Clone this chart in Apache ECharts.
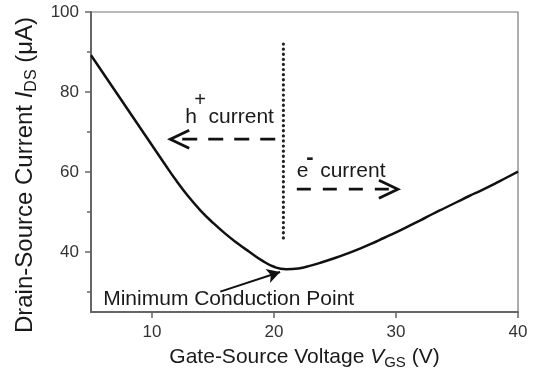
<!DOCTYPE html>
<html>
<head>
<meta charset="utf-8">
<script src="https://cdn.jsdelivr.net/npm/echarts@6/dist/echarts.min.js"></script>
<style>
  html, body { margin: 0; padding: 0; background: #fff; }
  #chart { width: 535px; height: 375px; }
</style>
</head>
<body>
<div id="chart"></div>
<script>
// 数据：栅源电压 / 漏源电流
const vgs = [5, 6, 7, 8, 9, 10, 11, 12, 13, 14, 15, 16, 17, 18, 19, 20, 21, 22, 23, 24,
  25, 26, 27, 28, 29, 30, 31, 32, 33, 34, 35, 36, 37, 38, 39, 40];
const ids = [89.2, 84.7, 80.2, 75.7, 71.2, 66.7, 62.2, 57.8, 53.8, 50.3, 47.3, 44.6, 42.2, 40.0, 37.9, 36.3,
  35.7, 35.9, 36.6, 37.5, 38.5, 39.6, 40.8, 42.1, 43.5, 44.9, 46.4, 47.9, 49.5, 51.0, 52.5, 54.0,
  55.4, 56.9, 58.5, 60.1];

const xTicks = [10, 20, 30, 40];
const yTicks = [40, 60, 80, 100];
const yMinorTicks = [30, 50, 70, 90];

// 注释（数据坐标）
const dividerLine = [[20.77, 92], [20.77, 43.4]];
const holeShaft = [[20.1, 68.2], [11.5, 68.2]];
const holeHead = [[13.05, 70.45], [11.5, 68.2], [13.05, 65.95]];
const elecShaft = [[21.87, 55.7], [30.15, 55.7]];
const elecHead = [[28.6, 57.95], [30.15, 55.7], [28.6, 53.45]];
const minArrow = [[15.6, 30.1], [20.5, 35.0]];
const holeLabelAt = [12.72, 73.75];
const holeSupAt = [13.95, 78.0];
const elecLabelAt = [21.87, 60.25];
const elecSupAt = [22.95, 63.4];
const minLabelAt = [6.0, 28.25];

const FONT = "'Liberation Sans', Arial, sans-serif";
const INK = '#1a1a1a';
const AXIS = '#666';

const chart = echarts.init(document.getElementById('chart'));

const option = {
  animation: false,
  backgroundColor: '#fff',
  textStyle: { fontFamily: FONT },
  grid: {
    left: 91,
    right: 17,
    top: 12,
    bottom: 63,
    show: true,
    borderColor: '#777',
    borderWidth: 1.2,
    backgroundColor: 'transparent',
  },
  xAxis: {
    type: 'value',
    min: 5,
    max: 40,
    name: '{n|Gate-Source Voltage }{i|V}{s|GS}{n| (V)}',
    nameLocation: 'middle',
    nameGap: 32,
    nameTextStyle: {
      rich: {
        n: { fontSize: 21, lineHeight: 26, color: INK, fontFamily: FONT },
        i: { fontSize: 21, lineHeight: 26, fontStyle: 'italic', color: INK, fontFamily: FONT },
        s: { fontSize: 15, lineHeight: 8, verticalAlign: 'bottom', color: INK, fontFamily: FONT },
      },
    },
    axisLine: { show: true, onZero: false, lineStyle: { color: AXIS, width: 2 } },
    axisTick: { show: true, customValues: xTicks, length: 6, lineStyle: { color: AXIS, width: 1.5 } },
    axisLabel: { customValues: xTicks, fontSize: 17, color: '#333', margin: 12, fontFamily: FONT },
    splitLine: { show: false },
  },
  yAxis: [
    {
      type: 'value',
      min: 25,
      max: 100,
      name: '{n|Drain-Source Current }{i|I}{s|DS}{n| (μA)}',
      nameLocation: 'middle',
      nameRotate: 90,
      nameGap: 47,
      nameTextStyle: {
        padding: [0, 26, 0, 0],
        rich: {
          n: { fontSize: 24, lineHeight: 28, color: INK, fontFamily: FONT },
          i: { fontSize: 24, lineHeight: 28, fontStyle: 'italic', color: INK, fontFamily: FONT },
          s: { fontSize: 16, lineHeight: 8, verticalAlign: 'bottom', color: INK, fontFamily: FONT },
        },
      },
      axisLine: { show: true, onZero: false, lineStyle: { color: AXIS, width: 2 } },
      axisTick: { show: true, customValues: yTicks, length: 6, lineStyle: { color: AXIS, width: 1.5 } },
      axisLabel: { customValues: yTicks, fontSize: 17, color: '#333', margin: 12, fontFamily: FONT },
      splitLine: { show: false },
    },
    {
      // 次刻度
      type: 'value',
      min: 25,
      max: 100,
      position: 'left',
      axisLine: { show: false },
      axisTick: { show: true, customValues: yMinorTicks, length: 4, lineStyle: { color: AXIS, width: 1.5 } },
      axisLabel: { show: false },
      splitLine: { show: false },
    },
  ],
  series: [
    {
      name: 'IDS',
      type: 'line',
      data: vgs.map((v, i) => [v, ids[i]]),
      smooth: 0.5,
      symbol: 'none',
      lineStyle: { color: '#111', width: 2.5 },
      z: 5,
      markPoint: {
        symbol: 'circle',
        symbolSize: 0,
        silent: true,
        label: { position: 'right', distance: 0, color: INK, fontFamily: FONT, fontSize: 21 },
        data: [
          { coord: holeLabelAt, label: { formatter: 'h  current' } },
          { coord: holeSupAt, label: { formatter: '+', position: 'inside', fontSize: 20 } },
          { coord: elecLabelAt, label: { formatter: 'e  current' } },
          { coord: elecSupAt, label: { formatter: '-', position: 'inside', fontSize: 22, fontWeight: 'bold' } },
          { coord: minLabelAt, label: { formatter: 'Minimum Conduction Point' } },
        ],
      },
    },
    {
      name: 'divider',
      type: 'line',
      data: dividerLine,
      symbol: 'none',
      lineStyle: { color: '#222', width: 3.2, type: [0.1, 5], cap: 'round' },
    },
    {
      name: 'hShaft',
      type: 'line',
      data: holeShaft,
      symbol: 'none',
      lineStyle: { color: '#111', width: 2.8, type: [15, 11] },
    },
    {
      name: 'hHead',
      type: 'line',
      data: holeHead,
      symbol: 'none',
      lineStyle: { color: '#111', width: 2.8, join: 'miter' },
    },
    {
      name: 'eShaft',
      type: 'line',
      data: elecShaft,
      symbol: 'none',
      lineStyle: { color: '#111', width: 2.8, type: [14, 12] },
    },
    {
      name: 'eHead',
      type: 'line',
      data: elecHead,
      symbol: 'none',
      lineStyle: { color: '#111', width: 2.8, join: 'miter' },
    },
    {
      name: 'minArrow',
      type: 'line',
      data: [],
      markLine: {
        silent: true,
        symbol: ['none', 'arrow'],
        symbolSize: [11, 13],
        label: { show: false },
        lineStyle: { color: '#111', width: 2, type: 'solid' },
        data: [[{ coord: minArrow[0] }, { coord: minArrow[1] }]],
      },
    },
  ],
};

chart.setOption(option);
</script>
</body>
</html>
